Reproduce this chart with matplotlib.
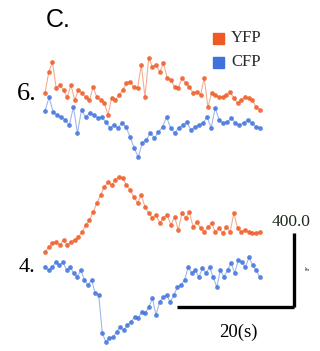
import numpy as np
import matplotlib
matplotlib.use("Agg")
import matplotlib.pyplot as plt

# fluorescence traces (delta F), cell 6 and cell 4
yfp_6 = [146, 259, 313, 173, 189, 162, 124, 189, 108, 162, 146, 124, 108, 178, 124,
         108, 92, 27, 119, 108, 135, 162, 200, 205, 178, 173, 297, 124, 335, 286,
         297, 259, 308, 227, 216, 178, 173, 227, 200, 178, 146, 151, 135, 227, 70,
         146, 135, 124, 124, 135, 151, 119, 92, 108, 124, 119, 108, 70, 54]
cfp_6 = [265, 340, 259, 243, 232, 216, 189, 286, 146, 270, 232, 254, 243, 227, 232,
         205, 173, 189, 173, 200, 178, 124, 65, 16, 92, 108, 146, 119, 151, 178,
         232, 173, 146, 173, 189, 205, 162, 178, 189, 200, 232, 173, 281, 216, 200,
         205, 227, 200, 189, 200, 216, 200, 178, 173]
yfp_4 = [43, 70, 92, 97, 81, 108, 81, 97, 108, 124, 151, 189, 216, 259, 308,
         351, 394, 421, 405, 432, 448, 443, 405, 378, 340, 308, 351, 286, 254, 227,
         243, 200, 227, 243, 189, 232, 162, 254, 227, 259, 178, 205, 173, 151, 178,
         200, 151, 173, 146, 178, 151, 254, 173, 151, 162, 151, 146, 146, 151]
cfp_4 = [421, 405, 421, 448, 432, 448, 405, 421, 389, 367, 405, 351, 324, 351, 281,
         270, 65, 16, 38, 43, 70, 97, 81, 108, 124, 151, 146, 178, 173, 205,
         254, 162, 232, 259, 270, 232, 270, 313, 324, 351, 421, 389, 405, 367, 416,
         389, 421, 367, 313, 405, 367, 405, 443, 389, 459, 448, 421, 475, 432, 405, 367]

duration = 36.7  # s
t_start = 7.7
scale_t = 20
scale_f = 400.0

YFP_C = "#ee5a24"
CFP_C = "#3f72dc"

fig = plt.figure(figsize=(3.2, 3.51), dpi=100)
ax = fig.add_axes([0, 0, 1, 1])
ax.set_xlim(0, 54.7)
ax.set_ylim(0, 1895)
ax.axis("off")

def trace(vals, offset, color):
    t = t_start + np.linspace(0, duration, len(vals))
    y = np.array(vals) + offset
    ax.plot(t, y, color=color, lw=0.8, alpha=0.5)
    ax.plot(t, y, "o", color=color, ms=3.4, mew=0, alpha=0.85)

trace(yfp_6, 1247, YFP_C)
trace(cfp_6, 1031, CFP_C)
trace(yfp_4, 491, YFP_C)
trace(cfp_4, 32, CFP_C)

# scale bar
bx, by = 50.3, 238
ax.plot([bx - scale_t, bx], [by, by], color="black", lw=2.4, solid_capstyle="butt")
ax.plot([bx, bx], [by, by + scale_f], color="black", lw=2.4, solid_capstyle="butt")

serif = "Liberation Serif"
fig.text(0.181, 0.943, "C.", fontsize=18, family="Liberation Sans", ha="center", va="center")
fig.text(0.084, 0.732, "6.", fontsize=19, family=serif, ha="center", va="center")
fig.text(0.084, 0.239, "4.", fontsize=16, family=serif, ha="center", va="center")
fig.text(0.909, 0.368, "%.1f" % scale_f, fontsize=12.5, family=serif, color="#1c2a1c",
         ha="center", va="center")
fig.text(0.744, 0.054, "%d(s)" % scale_t, fontsize=13.5, family=serif, ha="center", va="center")
fig.text(0.965, 0.235, "F", fontsize=5, family=serif, rotation=90, ha="center", va="center")

# legend
for yy, lab, c in [(0.892, "YFP", YFP_C), (0.823, "CFP", CFP_C)]:
    fig.patches.append(plt.Rectangle((0.666, yy - 0.017), 0.034, 0.031,
                                     transform=fig.transFigure, color=c))
    fig.text(0.722, yy, lab, fontsize=12, family=serif, color="#2a2a2a",
             ha="left", va="center")

fig.savefig("out.png", dpi=100)
